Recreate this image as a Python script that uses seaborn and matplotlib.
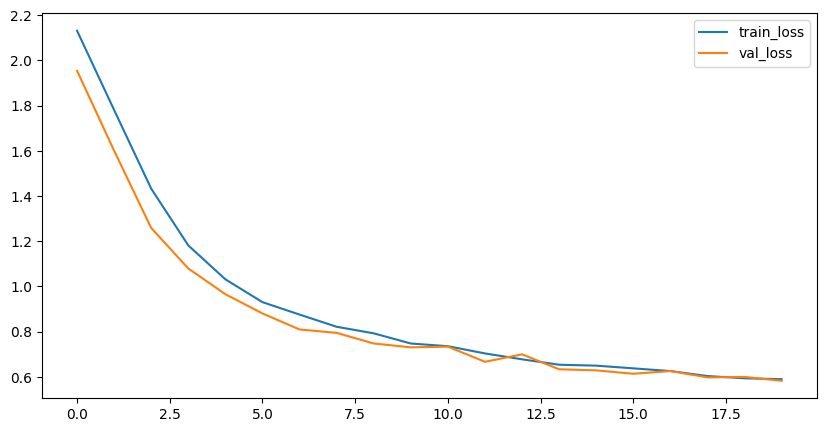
import pandas as pd
import matplotlib.pyplot as plt
import seaborn as sns

epochs = list(range(20))
train_loss = [2.131, 1.78, 1.432, 1.181, 1.031, 0.930, 0.875, 0.821, 0.792, 0.747,
              0.735, 0.703, 0.677, 0.653, 0.649, 0.637, 0.625, 0.603, 0.593, 0.589]
val_loss = [1.954, 1.60, 1.258, 1.079, 0.965, 0.880, 0.809, 0.794, 0.747, 0.730,
            0.733, 0.666, 0.699, 0.633, 0.628, 0.613, 0.625, 0.597, 0.599, 0.582]

df = pd.DataFrame({'epoch': epochs, 'train_loss': train_loss, 'val_loss': val_loss})

plt.figure(figsize=(10, 5))
sns.lineplot(x='epoch', y='train_loss', data=df, label='train_loss')
sns.lineplot(x='epoch', y='val_loss', data=df, label='val_loss')
plt.xlabel('')
plt.ylabel('')
plt.legend(loc='upper right')
plt.savefig('out.png', dpi=100, bbox_inches='tight')
plt.close()
